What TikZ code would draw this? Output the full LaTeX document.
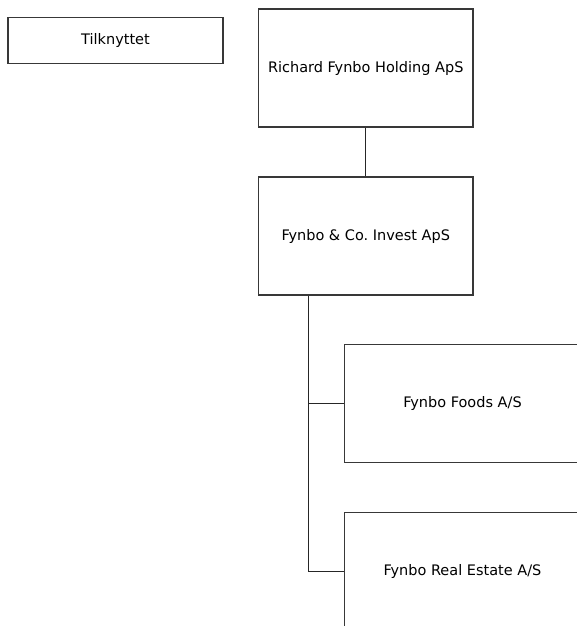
\documentclass[tikz,border=0pt]{standalone}
\usepackage{fontspec}
\setmainfont{DejaVu Sans}
\frenchspacing
\begin{document}
\begin{tikzpicture}[x=1pt,y=-1pt,
  box/.style={draw=black!78, line width=1.1pt, rectangle, inner sep=0pt, align=center,
    font=\fontsize{14.5}{17}\selectfont, text=black},
  link/.style={draw=black!85, line width=1.1pt}]
\clip (0,0) rectangle (577,626);
\fill[white] (0,0) rectangle (577,626);
\node[box, minimum width=215pt, minimum height=46.5pt] (tilk) at (115.5,40.7) {Tilknyttet};
\node[box, minimum width=214.5pt, minimum height=118pt] (rich) at (365.75,68) {Richard Fynbo Holding ApS};
\node[box, minimum width=214.5pt, minimum height=118pt] (invest) at (365.75,236) {Fynbo \& Co.\ Invest ApS};
\node[box, minimum width=236.5pt, minimum height=118.5pt] (foods) at (462.5,403.5) {Fynbo Foods A/S};
\node[box, minimum width=236.5pt, minimum height=118.7pt] (real) at (462.5,571.7) {Fynbo Real Estate A/S};
\draw[link] (rich.south) -- (invest.north);
\coordinate (trunk) at ([xshift=50.5pt]invest.south west);
\draw[link] (trunk) |- (foods.west);
\draw[link] (trunk) |- (real.west);
\end{tikzpicture}
\end{document}
